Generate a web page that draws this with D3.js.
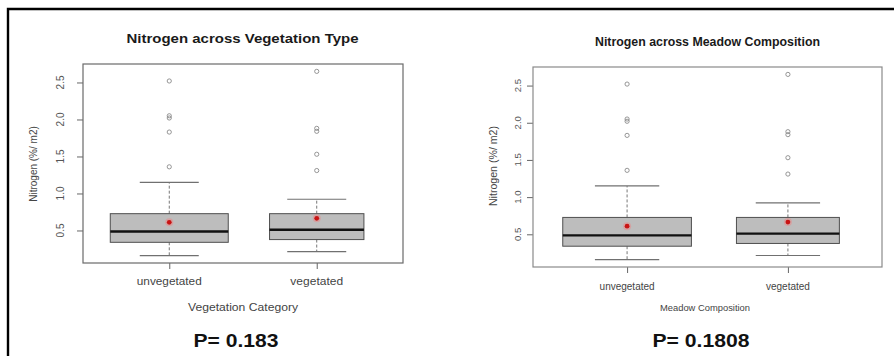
<!DOCTYPE html>
<html>
<head>
<meta charset="utf-8">
<script src="https://cdn.jsdelivr.net/npm/d3@7"></script>
<style>
  html, body { margin: 0; padding: 0; background: #fff; }
  svg { display: block; font-family: "Liberation Sans", Arial, sans-serif; }
</style>
</head>
<body>
<svg id="chart" width="894" height="356"></svg>
<script>
// Nitrogen (%/ m2) summary per category, shared by both panels
const categories = ["unvegetated", "vegetated"];
const lowerWhisker = [0.16, 0.215];
const quartile1 = [0.34, 0.377];
const medians = [0.486, 0.509];
const quartile3 = [0.727, 0.727];
const upperWhisker = [1.15, 0.922];
const means = [0.61, 0.664];
const outliers = [
  [2.52, 2.05, 2.02, 1.83, 1.36],
  [2.65, 1.88, 1.84, 1.53, 1.31]
];
const yTicks = [0.5, 1.0, 1.5, 2.0, 2.5];

const panelTitles = ["Nitrogen across Vegetation Type", "Nitrogen across Meadow Composition"];
const xAxisTitles = ["Vegetation Category", "Meadow Composition"];
const pValues = ["P= 0.183", "P= 0.1808"];
const yAxisTitle = "Nitrogen (%/ m2)";

// layout and look of each panel
const panels = [
  {
    plot: { x0: 83, x1: 403, y0: 64, y1: 263 },
    frame: "#6a6a6a",
    relWidth: [1, 0.8],
    title: { x: 242.5, y: 43, size: 12.6, len: 232 },
    yTickLabel: { x: 64, size: 10 },
    yTitle: { x: 37, y: 164, size: 10 },
    xTickLabel: { y: 285, size: 10.5, len: [65, 52.7] },
    xTitle: { x: 243, y: 311, size: 10.8, len: 110 },
    p: { x: 236, y: 346.5, size: 18.7, len: 85 }
  },
  {
    plot: { x0: 533, x1: 882, y0: 67, y1: 267 },
    frame: "#8a8a8a",
    relWidth: [1, 0.8],
    title: { x: 707.5, y: 46, size: 12, len: 225 },
    yTickLabel: { x: 521, size: 9.6 },
    yTitle: { x: 497, y: 166, size: 10.6 },
    xTickLabel: { y: 289.5, size: 10.3, len: [55, 44] },
    xTitle: { x: 705, y: 311, size: 9, len: 90 },
    p: { x: 701, y: 346.5, size: 18.7, len: 97 }
  }
];

const svg = d3.select("#chart");

// outer frame (left and top edges)
svg.append("path")
  .attr("d", "M8,356 L8,9 L894,9")
  .attr("fill", "none")
  .attr("stroke", "#000")
  .attr("stroke-width", 2.4);

// shared y extent with 4% padding either side
const allValues = lowerWhisker.concat(upperWhisker, outliers.flat());
const yMin = d3.min(allValues), yMax = d3.max(allValues);
const yPad = (yMax - yMin) * 0.04;

const stats = categories.map((c, i) => ({
  cat: c, lo: lowerWhisker[i], q1: quartile1[i], med: medians[i],
  q3: quartile3[i], hi: upperWhisker[i], mean: means[i], out: outliers[i], idx: i
}));

function addText(g, str, o) {
  const t = g.append("text")
    .attr("x", o.x).attr("y", o.y)
    .attr("text-anchor", "middle")
    .attr("font-size", o.size)
    .attr("font-weight", o.weight || "normal")
    .attr("fill", o.color || "#333")
    .text(str);
  if (o.len) t.attr("textLength", o.len).attr("lengthAdjust", "spacingAndGlyphs");
  return t;
}

panels.forEach((p, pi) => {
  const g = svg.append("g");
  const { x0, x1, y0, y1 } = p.plot;

  const y = d3.scaleLinear().domain([yMin - yPad, yMax + yPad]).range([y1, y0]);
  const x = d3.scalePoint().domain(categories).range([x0, x1]).padding(0.585);
  const step = x.step();
  const boxW = step * 0.8;

  // y axis ticks
  const yAxis = d3.axisLeft(y).tickValues(yTicks).tickFormat(d3.format(".1f"))
    .tickSize(6).tickPadding(3);
  const ya = g.append("g").attr("transform", `translate(${x0},0)`).call(yAxis);
  ya.select(".domain").remove();
  ya.selectAll(".tick line").attr("stroke", "#666");
  ya.selectAll(".tick text").remove();
  // rotated tick labels, parallel to the axis
  yTicks.forEach(v => {
    g.append("text")
      .attr("transform", `translate(${p.yTickLabel.x},${y(v)}) rotate(-90)`)
      .attr("text-anchor", "middle")
      .attr("font-size", p.yTickLabel.size)
      .attr("fill", "#555")
      .text(d3.format(".1f")(v));
  });

  // x axis ticks
  const xAxis = d3.axisBottom(x).tickSize(6).tickFormat("");
  const xa = g.append("g").attr("transform", `translate(0,${y1})`).call(xAxis);
  xa.select(".domain").remove();
  xa.selectAll(".tick line").attr("stroke", "#666");
  categories.forEach((c, i) => {
    addText(g, c, { x: x(c), y: p.xTickLabel.y, size: p.xTickLabel.size, len: p.xTickLabel.len[i], color: "#444" });
  });

  // boxes
  const bg = g.selectAll("g.box").data(stats).join("g").attr("class", "box");
  const halfW = d => boxW * p.relWidth[d.idx] / 2;
  const capHalf = boxW / 4;

  // dashed whiskers
  bg.append("line")
    .attr("x1", d => x(d.cat)).attr("x2", d => x(d.cat))
    .attr("y1", d => y(d.q3)).attr("y2", d => y(d.hi))
    .attr("stroke", "#777").attr("stroke-dasharray", "3,2");
  bg.append("line")
    .attr("x1", d => x(d.cat)).attr("x2", d => x(d.cat))
    .attr("y1", d => y(d.q1)).attr("y2", d => y(d.lo))
    .attr("stroke", "#777").attr("stroke-dasharray", "3,2");
  // staples
  ["hi", "lo"].forEach(k => {
    bg.append("line")
      .attr("x1", d => x(d.cat) - capHalf).attr("x2", d => x(d.cat) + capHalf)
      .attr("y1", d => y(d[k])).attr("y2", d => y(d[k]))
      .attr("stroke", "#707070").attr("stroke-width", 1.2);
  });
  // box
  bg.append("rect")
    .attr("x", d => x(d.cat) - halfW(d))
    .attr("width", d => 2 * halfW(d))
    .attr("y", d => y(d.q3))
    .attr("height", d => y(d.q1) - y(d.q3))
    .attr("fill", "#bdbdbd").attr("stroke", "#4f4f4f").attr("stroke-width", 1);
  // median
  bg.append("line")
    .attr("x1", d => x(d.cat) - halfW(d)).attr("x2", d => x(d.cat) + halfW(d))
    .attr("y1", d => y(d.med)).attr("y2", d => y(d.med))
    .attr("stroke", "#111").attr("stroke-width", 2.4);
  // outliers
  bg.selectAll("circle.out").data(d => d.out.map(v => ({ cat: d.cat, v }))).join("circle")
    .attr("class", "out")
    .attr("cx", d => x(d.cat)).attr("cy", d => y(d.v)).attr("r", 2.1)
    .attr("fill", "none").attr("stroke", "#8a8a8a").attr("stroke-width", 0.9);
  // means
  bg.append("circle")
    .attr("cx", d => x(d.cat)).attr("cy", d => y(d.mean)).attr("r", 4)
    .attr("fill", "#e88a8a").attr("opacity", 0.55);
  bg.append("circle")
    .attr("cx", d => x(d.cat)).attr("cy", d => y(d.mean)).attr("r", 2.4)
    .attr("fill", "#c81414");

  // plot frame
  g.append("rect")
    .attr("x", x0).attr("y", y0).attr("width", x1 - x0).attr("height", y1 - y0)
    .attr("fill", "none").attr("stroke", p.frame).attr("stroke-width", 1.2);

  // titles
  addText(g, panelTitles[pi], { x: p.title.x, y: p.title.y, size: p.title.size, len: p.title.len, weight: "bold", color: "#1a1a1a" });
  addText(g, xAxisTitles[pi], { x: p.xTitle.x, y: p.xTitle.y, size: p.xTitle.size, len: p.xTitle.len, color: "#444" });
  g.append("text")
    .attr("transform", `translate(${p.yTitle.x},${p.yTitle.y}) rotate(-90)`)
    .attr("text-anchor", "middle")
    .attr("font-size", p.yTitle.size)
    .attr("fill", "#444")
    .text(yAxisTitle);
  addText(g, pValues[pi], { x: p.p.x, y: p.p.y, size: p.p.size, len: p.p.len, weight: "bold", color: "#111" });
});
</script>
</body>
</html>
